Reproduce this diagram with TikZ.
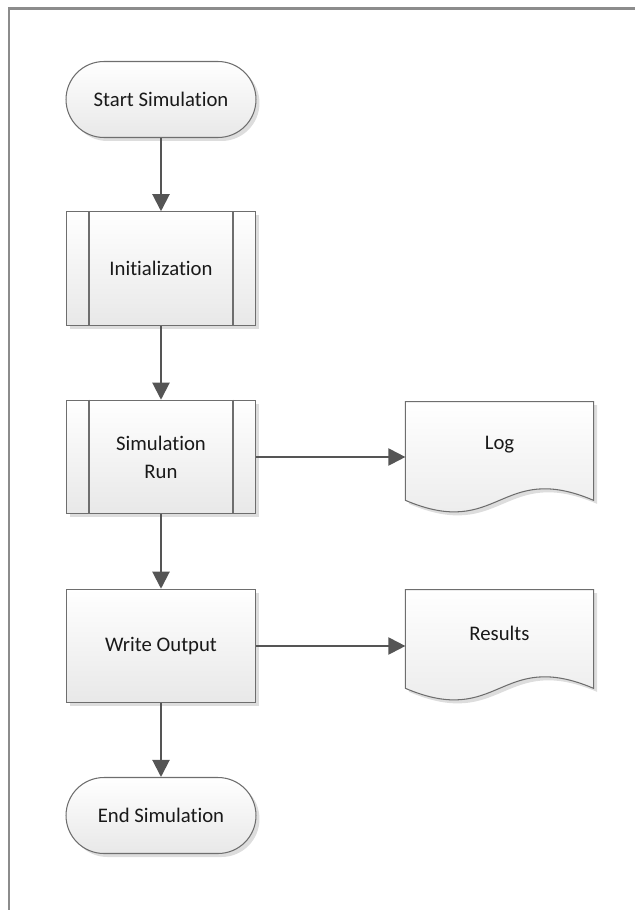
\documentclass[tikz,border=0pt]{standalone}
\usepackage{fontspec}
\setmainfont{Carlito}[Ligatures = NoCommon]
\usetikzlibrary{arrows.meta}
\usetikzlibrary{calc}
\usetikzlibrary{shadows}
\usetikzlibrary{backgrounds}

\definecolor{edgegray}{HTML}{6E6E6E}
\definecolor{arrowgray}{HTML}{555555}
\definecolor{framegray}{HTML}{8C8C8C}
\definecolor{fillbottom}{HTML}{E8E8E8}
\definecolor{shadowgray}{HTML}{DDDDDD}

\tikzset{
  boxfill/.style = {draw = edgegray, line width = .6pt, top color = white, bottom color = fillbottom,
    drop shadow = {shadow xshift = .07cm, shadow yshift = -.07cm, fill = shadowgray, opacity = 1}},
  boxtext/.style = {font = \fontsize{11.8}{16}\selectfont, text = black!90, align = center, inner sep = 0pt},
  terminal/.style = {boxfill, boxtext, rectangle, rounded corners = .76cm,
    minimum width = 3.8cm, minimum height = 1.52cm},
  process/.style = {boxfill, boxtext, rectangle, minimum width = 3.78cm, minimum height = 2.27cm},
  docnode/.style = {boxtext, rectangle, minimum width = 3.75cm, minimum height = 1.72cm},
  flow/.style = {draw = arrowgray, line width = 1.15pt, -{Triangle[length = .34cm, width = .34cm]}}
}

\begin{document}
\begin{tikzpicture}[x = .02cm, y = -.02cm]
  \useasboundingbox (0, 0) rectangle (635, 910);
  \draw[framegray, line width = 1.15pt] (635, 8.5) -- (9, 8.5) -- (9, 910);

  \node[terminal] (start) at (161, 99.5) {Start Simulation};
  \node[process] (init) at (161, 268.5) {Initialization};
  \node[process] (simrun) at (161, 457) {Simulation\\Run};
  \node[process] (write) at (161, 646) {Write Output};
  \node[terminal] (stop) at (161, 815.5) {End Simulation};

  \node[docnode] (log) at (499.5, 445) {Log};
  \node[docnode] (results) at (499.5, 633) {Results};

  % side bars of the predefined processes
  \foreach \p in {init, simrun} {
    \draw[edgegray, line width = .6pt] ($(\p.north west) + (23, 0)$) -- ($(\p.south west) + (23, 0)$);
    \draw[edgegray, line width = .6pt] ($(\p.north east) + (-23, 0)$) -- ($(\p.south east) + (-23, 0)$);
  }

  % document outlines, behind the labels
  \begin{scope}[on background layer]
    \foreach \doc in {log, results}
      \path[boxfill] (\doc.north west) -- (\doc.north east) -- ($(\doc.south east) + (0, 12)$)
      .. controls ($(\doc.south) + (0, -28)$) and ($(\doc.south) + (0, 52)$) .. ($(\doc.south west) + (0, 12)$)
      -- cycle;
  \end{scope}

  \draw[flow] (start.south) -- (init.north);
  \draw[flow] (init.south) -- (simrun.north);
  \draw[flow] (simrun.south) -- (write.north);
  \draw[flow] (write.south) -- (stop.north);
  \draw[flow] (simrun.east) -- (simrun.east -| log.west);
  \draw[flow] (write.east) -- (write.east -| results.west);
\end{tikzpicture}
\end{document}
